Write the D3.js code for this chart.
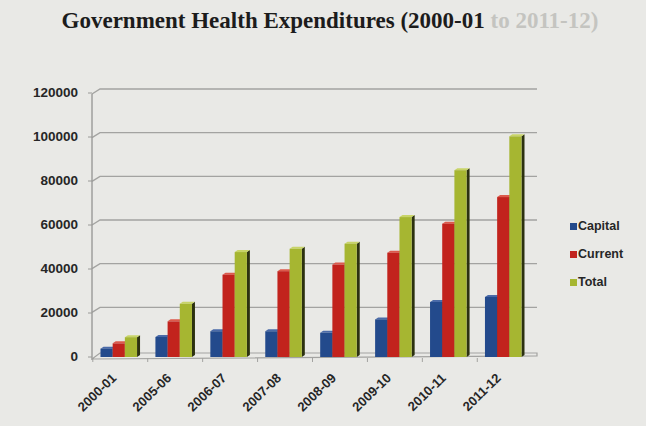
<!DOCTYPE html>
<html>
<head>
<meta charset="utf-8">
<script src="https://cdn.jsdelivr.net/npm/d3@7"></script>
<style>
  body { margin: 0; background: #e9e9e6; }
  svg { display: block; }
</style>
</head>
<body>
<div id="chart"></div>
<script>
// data
var years = ["2000-01", "2005-06", "2006-07", "2007-08", "2008-09", "2009-10", "2010-11", "2011-12"];
var series = ["Capital", "Current", "Total"];
var capital = [3800, 9100, 11700, 11700, 11000, 17100, 25000, 27300];
var current = [6200, 16200, 37400, 39000, 42000, 47400, 60600, 72700];
var total = [9000, 24200, 47700, 49200, 51500, 63600, 84900, 100300];
var yTicks = [0, 20000, 40000, 60000, 80000, 100000, 120000];

var colors = { Capital: "#234a8c", Current: "#c2231d", Total: "#a6b631" };
var sides = { Capital: "#142b55", Current: "#6e1411", Total: "#2c3110" };
var tops = { Capital: "#4a6aa8", Current: "#dc5a4c", Total: "#c8d468" };

var width = 646, height = 426;

var svg = d3.select("#chart")
  .append("svg")
    .attr("width", width)
    .attr("height", height);

svg.append("rect")
  .attr("width", width).attr("height", height)
  .attr("fill", "#e9e9e6");

// title (end of it is faded in the scan)
var title = svg.append("text")
  .attr("x", 330).attr("y", 28)
  .attr("text-anchor", "middle")
  .attr("font-family", "Liberation Serif, Times New Roman, serif")
  .attr("font-weight", "bold")
  .attr("font-size", 23);
title.append("tspan").attr("fill", "#1c1c1c").text("Government Health Expenditures (2000-01");
title.append("tspan").attr("fill", "#c4c4c0").text(" to 2011-12)");

// scales
var axisX = 92, floorY = 357;
var y = d3.scaleLinear().domain([0, 120000]).range([floorY, 93]);
var yWall = d3.scaleLinear().domain([0, 120000]).range([351, 89]);

var x = d3.scaleBand().domain(years).range([95, 530]).paddingInner(0.28).paddingOuter(0.1);
var xs = d3.scaleBand().domain(series).range([0, x.bandwidth() - 3]);

// back wall grid lines
svg.selectAll(".grid")
  .data(yTicks.slice(1))
  .enter()
  .append("path")
    .attr("fill", "none")
    .attr("stroke", "#a3a3a1")
    .attr("stroke-width", 1.4)
    .attr("d", function(d) {
      return "M" + axisX + "," + (yWall(d) + 5) + "L" + (axisX + 8) + "," + yWall(d) + "L537," + yWall(d);
    });

// floor
svg.append("path")
  .attr("fill", "none")
  .attr("stroke", "#a3a3a1")
  .attr("stroke-width", 1.2)
  .attr("d", "M" + axisX + "," + (floorY + 2) + "L" + (axisX + 8) + "," + (yWall(0) + 2) + "L537," + (yWall(0) + 2) + "L537," + (floorY - 1) + "L" + axisX + "," + (floorY + 2));

// vertical axis
svg.append("line")
  .attr("x1", axisX).attr("x2", axisX)
  .attr("y1", yWall(120000) + 5).attr("y2", floorY + 3)
  .attr("stroke", "#9a9a98").attr("stroke-width", 1.4);

svg.selectAll(".ytick")
  .data(yTicks)
  .enter()
  .append("line")
    .attr("x1", axisX - 4).attr("x2", axisX)
    .attr("y1", function(d) { return y(d); })
    .attr("y2", function(d) { return y(d); })
    .attr("stroke", "#9a9a98");

svg.selectAll(".ylabel")
  .data(yTicks)
  .enter()
  .append("text")
    .attr("x", 78)
    .attr("y", function(d) { return y(d) + 4; })
    .attr("text-anchor", "end")
    .attr("font-family", "Liberation Sans, Arial, sans-serif")
    .attr("font-weight", "bold")
    .attr("font-size", 13.5)
    .attr("fill", "#262626")
    .text(function(d) { return d; });

// floor ticks between groups
svg.selectAll(".xtick")
  .data(years)
  .enter()
  .append("line")
    .attr("x1", function(d) { return x(d) - (x.step() - x.bandwidth()) / 2; })
    .attr("x2", function(d) { return x(d) - (x.step() - x.bandwidth()) / 2; })
    .attr("y1", floorY + 1).attr("y2", floorY + 5)
    .attr("stroke", "#a3a3a1");

// bars
var rows = years.map(function(yr, i) {
  return { year: yr, values: [
    { key: "Capital", value: capital[i] },
    { key: "Current", value: current[i] },
    { key: "Total", value: total[i] }
  ]};
});

var dx = 3, dy = 2;
var groups = svg.selectAll(".group")
  .data(rows)
  .enter()
  .append("g")
    .attr("transform", function(d) { return "translate(" + x(d.year) + ",0)"; });

var bar = groups.selectAll(".bar")
  .data(function(d) { return d.values; })
  .enter()
  .append("g");

var bw = xs.bandwidth();

bar.append("path")
  .attr("fill", function(d) { return sides[d.key]; })
  .attr("d", function(d) {
    var x0 = xs(d.key) + bw, yt = y(d.value);
    return "M" + x0 + "," + yt + "L" + (x0 + dx) + "," + (yt - dy) + "L" + (x0 + dx) + "," + (floorY - dy) + "L" + x0 + "," + floorY + "Z";
  });

bar.append("path")
  .attr("fill", function(d) { return tops[d.key]; })
  .attr("d", function(d) {
    var x0 = xs(d.key), yt = y(d.value);
    return "M" + x0 + "," + yt + "L" + (x0 + dx) + "," + (yt - dy) + "L" + (x0 + bw + dx) + "," + (yt - dy) + "L" + (x0 + bw) + "," + yt + "Z";
  });

bar.append("rect")
  .attr("x", function(d) { return xs(d.key); })
  .attr("y", function(d) { return y(d.value); })
  .attr("width", bw)
  .attr("height", function(d) { return floorY - y(d.value); })
  .attr("fill", function(d) { return colors[d.key]; });

// x labels
svg.selectAll(".xlabel")
  .data(years)
  .enter()
  .append("text")
    .attr("transform", function(d) {
      return "translate(" + (x(d) + x.bandwidth() / 2 - 3) + ",379) rotate(-44)";
    })
    .attr("text-anchor", "end")
    .attr("font-family", "Liberation Sans, Arial, sans-serif")
    .attr("font-weight", "bold")
    .attr("font-size", 13)
    .attr("fill", "#262626")
    .text(function(d) { return d; });

// legend
var legendY = d3.scalePoint().domain(series).range([230, 286]);
var legend = svg.selectAll(".legend")
  .data(series)
  .enter()
  .append("g")
    .attr("transform", function(d) { return "translate(570," + legendY(d) + ")"; });

legend.append("rect")
  .attr("x", 0).attr("y", -7)
  .attr("width", 7).attr("height", 7)
  .attr("fill", function(d) { return colors[d]; });

legend.append("text")
  .attr("x", 8).attr("y", 0)
  .attr("font-family", "Liberation Sans, Arial, sans-serif")
  .attr("font-weight", "bold")
  .attr("font-size", 12.5)
  .attr("fill", "#262626")
  .text(function(d) { return d; });
</script>
</body>
</html>
